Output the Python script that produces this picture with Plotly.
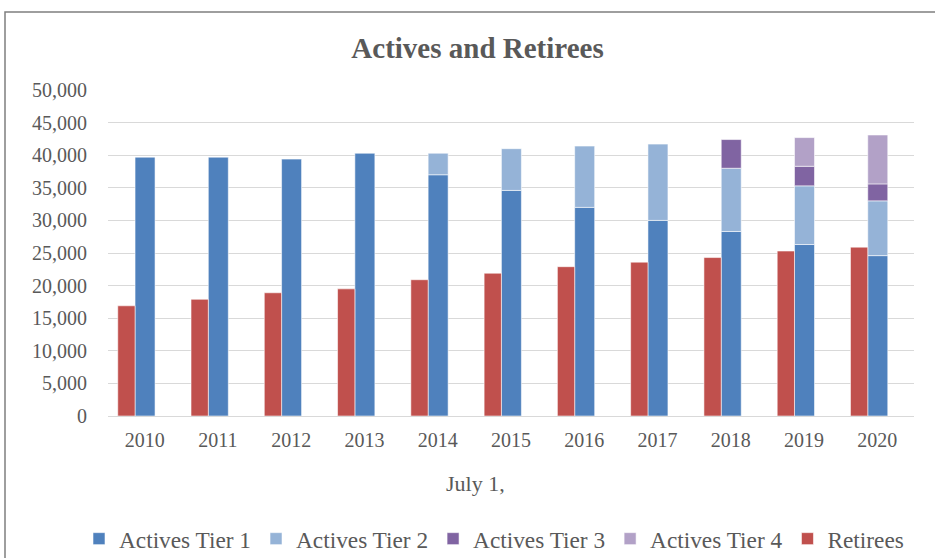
import plotly.graph_objects as go

years = ["2010", "2011", "2012", "2013", "2014", "2015", "2016", "2017", "2018", "2019", "2020"]
tier1 = [39700, 39700, 39400, 40300, 37000, 34600, 32000, 30000, 28300, 26300, 24600]
tier2 = [0, 0, 0, 0, 3300, 6400, 9400, 11700, 9700, 9000, 8400]
tier3 = [0, 0, 0, 0, 0, 0, 0, 0, 4400, 3000, 2600]
tier4 = [0, 0, 0, 0, 0, 0, 0, 0, 0, 4400, 7500]
retirees = [16900, 17900, 18900, 19500, 20900, 21900, 22900, 23600, 24300, 25300, 25900]

FONT = "Liberation Serif"
GREY = "#595959"

L, R, T, B = 108, 914, 90, 416
PW, PH = R - L, B - T

def px_x(p):
    return (p - L) / PW

def px_y(p):
    return (B - p) / PH

fig = go.Figure()

tiers = [
    ("Actives Tier 1", tier1, "#4F81BD"),
    ("Actives Tier 2", tier2, "#95B3D7"),
    ("Actives Tier 3", tier3, "#8064A2"),
    ("Actives Tier 4", tier4, "#B2A1C7"),
]
base = [0] * len(years)
for name, vals, color in tiers:
    fig.add_trace(go.Bar(
        x=years, y=[v if v else None for v in vals], base=list(base), name=name,
        marker=dict(color=color, line=dict(color="rgba(255,255,255,0.7)", width=0.8)),
        width=0.273, offset=-0.131,
    ))
    base = [b + v for b, v in zip(base, vals)]

fig.add_trace(go.Bar(
    x=years, y=retirees, name="Retirees",
    marker=dict(color="#C0504D", line=dict(color="rgba(255,255,255,0.7)", width=0.8)),
    width=0.236, offset=-0.367,
))

fig.update_layout(
    width=935, height=558, autosize=False,
    barmode="overlay",
    paper_bgcolor="white", plot_bgcolor="white",
    margin=dict(l=L, r=935 - R, t=T, b=558 - B, autoexpand=False),
    font=dict(family=FONT, color=GREY),
    title=dict(text="<b>Actives and Retirees</b>", x=477.5 / 935, xanchor="center",
               y=1 - 48 / 558, yanchor="middle",
               font=dict(family=FONT, size=29, color=GREY)),
    xaxis=dict(
        type="category", showgrid=False, showline=False, ticks="", automargin=False,
        tickfont=dict(family=FONT, size=20, color=GREY), ticklabelstandoff=10,
    ),
    yaxis=dict(
        range=[0, 50000], dtick=5000, tickformat=",d", automargin=False,
        showgrid=True, gridcolor="#D9D9D9", gridwidth=1.3,
        zeroline=True, zerolinecolor="#D9D9D9", zerolinewidth=1.3,
        showline=False, ticks="", ticklabelstandoff=20,
        tickfont=dict(family=FONT, size=20, color=GREY),
    ),
    legend=dict(
        orientation="h", x=px_x(79), xanchor="left", y=px_y(539), yanchor="middle",
        traceorder="normal", font=dict(family=FONT, size=23.3, color=GREY),
        itemwidth=30,
    ),
    showlegend=True,
)

fig.add_annotation(text="July 1,", xref="paper", yref="paper", x=px_x(475.5), y=px_y(483),
                   xanchor="center", yanchor="middle", showarrow=False,
                   font=dict(family=FONT, size=22, color=GREY))

fig.add_shape(type="rect", xref="paper", yref="paper",
              x0=px_x(5), x1=px_x(945),
              y0=px_y(575), y1=px_y(12),
              line=dict(color="#7F7F7F", width=1.5), fillcolor="rgba(0,0,0,0)", layer="below")

fig.write_html("out.html", config={"displayModeBar": False},
               post_script="document.body.style.margin='0px';")
